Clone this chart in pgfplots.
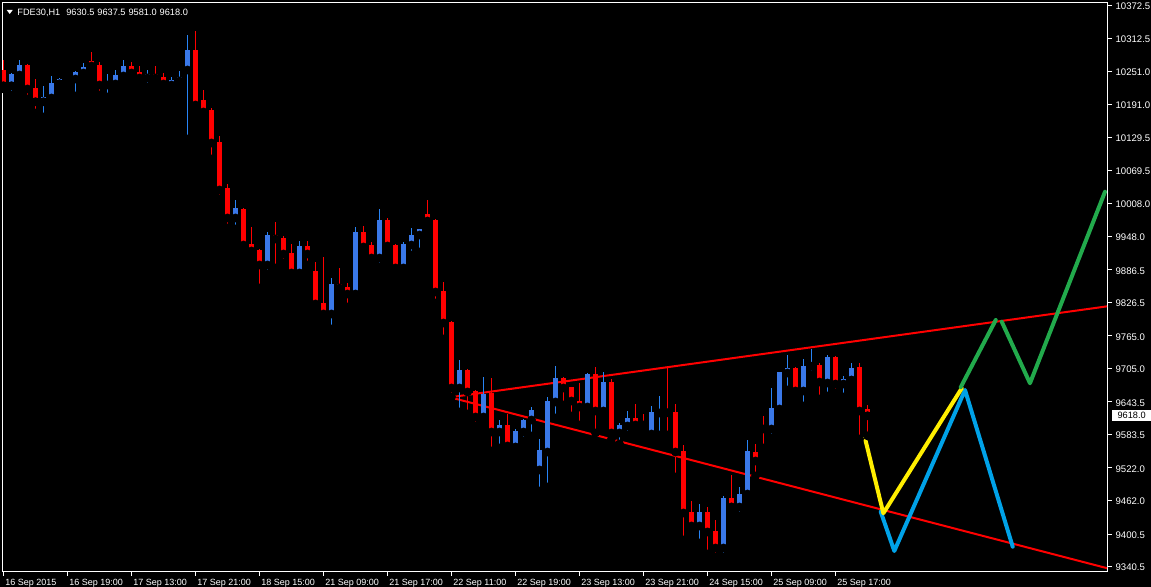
\documentclass[border=0pt]{standalone}
\usepackage{fontspec}
\setmainfont{Liberation Sans}
\usepackage{pgfplots}
\usepackage{pgfplotstable}
\pgfplotsset{compat=1.18}

\definecolor{bull}{RGB}{58,120,232}
\definecolor{bullwick}{RGB}{40,132,245}
\definecolor{bear}{RGB}{255,0,0}
\definecolor{ylw}{RGB}{255,238,0}
\definecolor{sky}{RGB}{0,162,232}
\definecolor{grn}{RGB}{34,170,76}

% FDE30 H1 bars: index, open, high, low, close
\pgfplotstableread{
x O H L C
0 10253.7 10272.1 10218.8 10224.8
1 10224.8 10248.7 10207.7 10246.3
2 10244.5 10272.1 10237.1 10262.9
3 10262.9 10264.5 10200.4 10218.8
4 10220.6 10237.1 10174.6 10195.4
5 10195.4 10224.3 10167.3 10204.1
6 10202.2 10242.7 10198.5 10229.8
7 10228.5 10239.0 10213.2 10237.1
8 10235.3 10239.5 10220.6 10239.0
9 10237.1 10251.9 10205.9 10250.0
10 10248.2 10266.6 10242.7 10259.2
11 10270.2 10286.8 10248.2 10261.1
12 10262.9 10268.4 10207.7 10226.1
13 10226.1 10246.3 10204.1 10231.6
14 10228.0 10253.7 10226.1 10244.5
15 10242.7 10272.1 10239.0 10261.1
16 10261.1 10268.4 10244.5 10248.2
17 10250.0 10261.1 10228.0 10239.0
18 10239.0 10253.7 10222.4 10246.3
19 10246.3 10261.1 10231.6 10239.0
20 10240.8 10248.2 10215.1 10228.0
21 10226.1 10240.8 10220.6 10235.3
22 10233.5 10251.9 10224.3 10240.8
23 10253.7 10318.1 10126.8 10290.5
24 10290.5 10325.4 10174.6 10189.3
25 10198.5 10216.9 10174.0 10176.5
26 10180.2 10183.8 10090.1 10119.5
27 10121.3 10132.4 10016.5 10033.1
28 10036.8 10044.1 9963.2 9981.6
29 9981.6 10014.7 9961.4 10000.0
30 9998.1 10000.0 9919.1 9931.9
31 9933.8 9965.0 9908.0 9920.9
32 9922.7 9924.6 9852.9 9895.2
33 9895.2 9955.8 9878.6 9950.3
34 9950.3 9974.2 9889.7 9943.0
35 9944.8 9948.5 9898.9 9915.4
36 9917.2 9933.8 9874.9 9880.5
37 9880.5 9939.3 9873.1 9930.1
38 9930.1 9939.3 9895.2 9915.4
39 9884.1 9900.7 9814.3 9823.5
40 9825.3 9909.9 9799.6 9805.1
41 9805.1 9871.2 9777.5 9860.2
42 9860.2 9889.7 9843.7 9852.9
43 9854.7 9862.1 9818.0 9841.8
44 9841.8 9965.0 9841.0 9955.8
45 9955.8 9966.9 9919.1 9928.3
46 9931.9 9937.5 9902.5 9908.0
47 9908.0 9998.1 9891.5 9977.9
48 9977.9 9981.6 9924.6 9930.1
49 9931.9 9933.8 9882.3 9889.7
50 9889.7 9937.5 9886.0 9933.8
51 9931.9 9963.2 9913.5 9950.3
52 9950.3 9962.0 9919.1 9961.4
53 9988.9 10014.7 9974.2 9976.0
54 9977.9 9979.0 9825.3 9845.5
55 9847.4 9863.9 9759.1 9788.5
56 9790.3 9792.0 9652.5 9669.0
57 9669.0 9720.5 9624.9 9702.1
58 9702.1 9703.0 9621.2 9661.7
59 9663.5 9665.3 9599.2 9615.7
60 9615.7 9689.2 9606.5 9658.0
61 9659.8 9687.4 9553.2 9588.1
62 9588.1 9610.2 9558.7 9601.0
63 9601.0 9621.2 9560.5 9562.4
64 9560.5 9593.6 9560.0 9590.0
65 9588.1 9612.0 9571.6 9610.2
66 9610.2 9634.1 9580.7 9628.6
67 9518.3 9575.3 9479.6 9555.0
68 9551.3 9652.5 9487.0 9645.1
69 9643.3 9709.4 9613.9 9687.4
70 9687.4 9689.2 9637.8 9669.0
71 9670.8 9671.0 9617.5 9645.1
72 9645.1 9678.2 9601.0 9634.1
73 9634.1 9696.6 9630.4 9694.8
74 9694.8 9707.6 9586.3 9626.7
75 9626.7 9698.5 9621.2 9680.0
76 9680.0 9685.5 9575.3 9586.3
77 9586.3 9604.7 9566.1 9601.0
78 9599.2 9626.7 9582.6 9613.9
79 9613.9 9639.6 9593.6 9601.0
80 9604.7 9621.2 9593.6 9601.0
81 9584.4 9635.9 9569.7 9624.9
82 9623.1 9654.3 9582.6 9626.7
83 9626.5 9705.8 9582.6 9623.5
84 9624.9 9639.6 9505.4 9551.3
85 9553.2 9564.2 9389.6 9439.2
86 9441.0 9461.2 9402.4 9415.3
87 9415.3 9455.7 9384.0 9441.0
88 9441.0 9450.2 9363.8 9404.3
89 9406.1 9426.3 9358.3 9374.8
90 9374.8 9470.4 9358.3 9466.8
91 9466.8 9509.1 9450.0 9450.2
92 9450.2 9487.0 9433.7 9474.1
93 9474.1 9573.4 9459.4 9553.2
94 9551.3 9566.1 9507.2 9534.8
95 9597.3 9617.5 9558.7 9593.6
96 9593.6 9669.0 9577.1 9632.3
97 9630.4 9699.0 9621.2 9698.5
98 9696.6 9729.7 9665.3 9705.8
99 9705.8 9707.6 9650.6 9663.5
100 9663.5 9722.3 9635.9 9709.4
101 9709.0 9740.7 9692.9 9712.0
102 9711.3 9715.0 9648.8 9680.0
103 9678.2 9729.7 9654.3 9726.0
104 9726.0 9727.0 9659.8 9676.3
105 9676.3 9691.1 9652.5 9685.5
106 9683.7 9715.0 9683.0 9705.8
107 9707.6 9715.0 9575.3 9626.7
108 9630.5 9637.5 9581.0 9618.0
}\ohlc

\begin{document}
\begin{tikzpicture}
% chart window background
\fill[black] (-1pt,-7.75pt) rectangle (574.5pt,285.75pt);
\begin{axis}[
    scale only axis,
    width=552.75pt, height=284.5pt,
    xmin=-0.1875, xmax=138,
    ymin=9331.6, ymax=10377.8,
    axis line style={white, line width=0.5pt},
    tick style={white, line width=0.5pt},
    tick align=outside,
    major tick length=2.25pt,
    xtick pos=bottom, ytick pos=right, yticklabel pos=right,
    xtick={0,8,...,104},
    xticklabels={16 Sep 2015,16 Sep 19:00,17 Sep 13:00,17 Sep 21:00,18 Sep 15:00,21 Sep 09:00,21 Sep 17:00,22 Sep 11:00,22 Sep 19:00,23 Sep 13:00,23 Sep 21:00,24 Sep 15:00,25 Sep 09:00,25 Sep 17:00},
    ytick={9340.5,9400.5,9462.0,9522.0,9583.5,9643.5,9705.0,9765.0,9826.5,9886.5,9948.0,10008.0,10069.5,10129.5,10191.0,10251.0,10312.5,10372.5},
    yticklabels={9340.5,9400.5,9462.0,9522.0,9583.5,9643.5,9705.0,9765.0,9826.5,9886.5,9948.0,10008.0,10069.5,10129.5,10191.0,10251.0,10312.5,10372.5},
    tick label style={text=white, inner sep=0pt},
    xticklabel style={font=\fontsize{4.5}{5}\selectfont, anchor=north west, xshift=0.75pt, yshift=-1.25pt},
    yticklabel style={font=\fontsize{4.8}{5}\selectfont, anchor=west, xshift=1.6pt, yshift=-0.5pt},
]
% trend channel
\addplot[bear, line width=1pt] coordinates {(55.81,9651.9) (137.94,9819.1)};
\addplot[bear, line width=1pt] coordinates {(55.81,9651.9) (137.94,9337.7)};
% projected paths
\addplot[sky, line width=2pt, line cap=round, line join=round] coordinates {(109.65,9441.6) (111.35,9369.3) (120.19,9665.3) (126.15,9377.2)};
\addplot[ylw, line width=2pt, line cap=round, line join=round] coordinates {(107.69,9576.5) (109.98,9438.6) (119.78,9668.5)};
\addplot[grn, line width=2pt, line cap=round, line join=round] coordinates {(119.65,9670.3) (124.03,9794.0)};
\addplot[grn, line width=2pt, line cap=round, line join=round] coordinates {(124.78,9790.9) (128.31,9677.7) (137.69,10029.9)};
% wicks
\addplot[only marks, mark=none, restrict expr to domain={\thisrow{C}-\thisrow{O}}{0:100000},
    error bars/.cd, y dir=plus, y explicit, error mark=none,
    error bar style={draw=bullwick, line width=0.5pt}]
    table[x=x, y=L, y error plus expr=\thisrow{H}-\thisrow{L}] {\ohlc};
\addplot[only marks, mark=none, restrict expr to domain={\thisrow{O}-\thisrow{C}}{0.001:100000},
    error bars/.cd, y dir=plus, y explicit, error mark=none,
    error bar style={draw=bear, line width=0.5pt}]
    table[x=x, y=L, y error plus expr=\thisrow{H}-\thisrow{L}] {\ohlc};
% bodies
\addplot[only marks, mark=none, restrict expr to domain={\thisrow{C}-\thisrow{O}}{0:100000},
    error bars/.cd, y dir=plus, y explicit, error mark=none,
    error bar style={draw=bull, line width=2.5pt}]
    table[x=x, y=O, y error plus expr=\thisrow{C}-\thisrow{O}] {\ohlc};
\addplot[only marks, mark=none, restrict expr to domain={\thisrow{O}-\thisrow{C}}{0.001:100000},
    error bars/.cd, y dir=plus, y explicit, error mark=none,
    error bar style={draw=bear, line width=2.5pt}]
    table[x=x, y=C, y error plus expr=\thisrow{O}-\thisrow{C}] {\ohlc};
\end{axis}
% header and current price box
\fill[white] (2.35pt,280.75pt) -- (5.35pt,280.75pt) -- (3.85pt,278.75pt) -- cycle;
\node[anchor=base west, inner sep=0pt, text=white, font=\fontsize{4.6}{5}\selectfont] at (7.5pt,278.1pt) {FDE30,H1\hspace{3pt}9630.5\hspace{1.5pt}9637.5\hspace{1.5pt}9581.0\hspace{1.5pt}9618.0};
\node[anchor=west, fill=white, text=black, inner sep=0pt, minimum width=19.25pt, minimum height=5.25pt, font=\fontsize{4.6}{5}\selectfont] at (555pt,77.88pt) {9618.0};
\pgfresetboundingbox
\useasboundingbox (-1pt,-7.75pt) rectangle (574.5pt,285.75pt);
\end{tikzpicture}
\end{document}
